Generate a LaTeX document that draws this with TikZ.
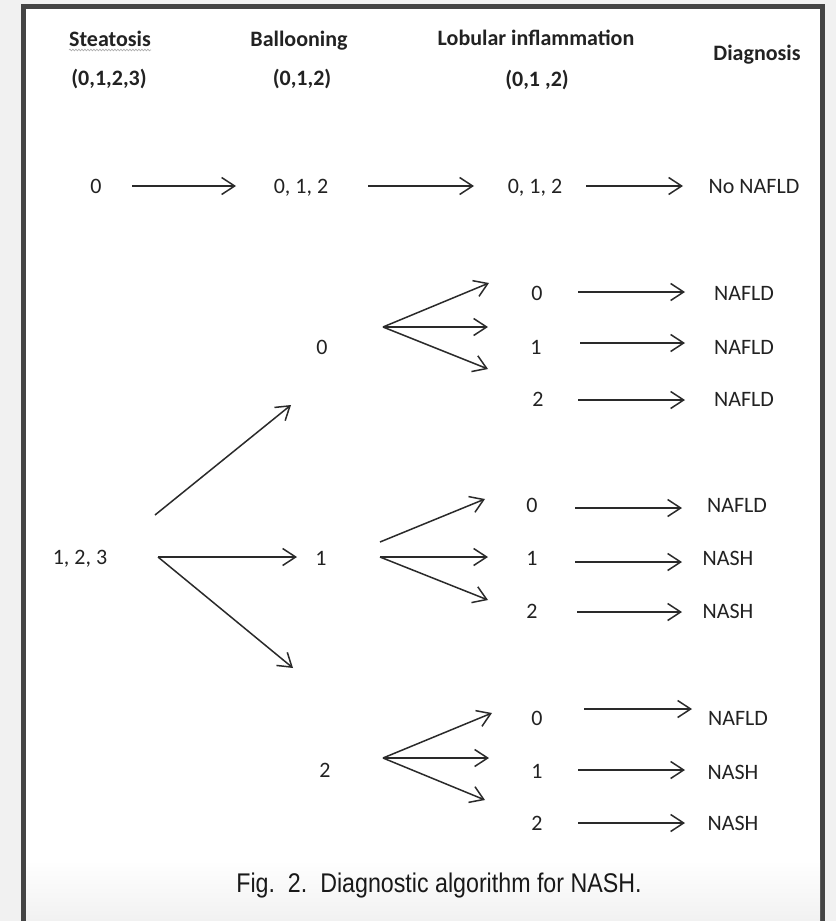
\documentclass[tikz,border=0pt]{standalone}
\usepackage{fontspec}
\setmainfont{Carlito}
\newfontfamily\capfont[FakeStretch=0.86]{Liberation Sans}
\usetikzlibrary{arrows.meta,decorations.pathmorphing}
\definecolor{ink}{HTML}{222222}
\definecolor{lineink}{HTML}{2A2A2A}
\definecolor{outerbg}{HTML}{F1F1F1}
\definecolor{framecol}{HTML}{444444}
\begin{document}
\begin{tikzpicture}[x=1pt,y=-1pt,
  lbl/.style={anchor=base,inner sep=0pt,text=ink,font=\fontsize{22}{26}\selectfont},
  hdr/.style={anchor=base,inner sep=0pt,text=ink,font=\fontsize{22}{26}\selectfont\bfseries},
  arr/.style={draw=lineink,line width=1.5pt,-{Straight Barb[length=13pt,width=17pt,line width=1.5pt]}},
  captxt/.style={anchor=base,inner sep=0pt,text=black!90,font=\capfont\fontsize{27}{32}\selectfont}]
\useasboundingbox (0,0) rectangle (836,921);
% background and frame
\fill[outerbg] (0,0) rectangle (836,921);
\fill[framecol] (21,4) rectangle (825,921);
\fill[white] (26,9) rectangle (820,921);
\shade[top color=white,bottom color=outerbg] (26,860) rectangle (820,921);

% headers
\node[hdr] (hst) at (110,46) {Steatosis};
\node[hdr] (hba) at (299,46) {Ballooning};
\node[hdr] (hlo) at (536,45) {Lobular inflammation};
\node[hdr] (hdi) at (757,60) {Diagnosis};
\node[hdr] (rst) at (109,85) {(0,1,2,3)};
\node[hdr] (rba) at (302,85) {(0,1,2)};
\node[hdr] (rlo) at (537,86) {(0,1 ,2)};
\draw[gray!70,line width=0.6pt,decorate,decoration={snake,amplitude=0.9pt,segment length=3pt}]
  ([yshift=-4pt]hst.base west) -- ([yshift=-4pt]hst.base east);

% row 0
\node[lbl] (s0) at (96,193) {0};
\node[lbl] (b012) at (301,193) {0, 1, 2};
\node[lbl] (l012) at (535,193) {0, 1, 2};
\node[lbl] (dno) at (754,193) {No NAFLD};

% steatosis 1,2,3 and ballooning
\node[lbl] (s123) at (80,564) {1, 2, 3};
\node[lbl] (b0) at (322,354) {0};
\node[lbl] (b1) at (321,565) {1};
\node[lbl] (b2) at (325,777) {2};

% lobular, ballooning 0
\node[lbl] (l00) at (537,300) {0};
\node[lbl] (l01) at (536,354) {1};
\node[lbl] (l02) at (538,406) {2};
\node[lbl] (d00) at (744,300) {NAFLD};
\node[lbl] (d01) at (744,354) {NAFLD};
\node[lbl] (d02) at (744,406) {NAFLD};

% lobular, ballooning 1
\node[lbl] (l10) at (532,512) {0};
\node[lbl] (l11) at (532,565) {1};
\node[lbl] (l12) at (532,618) {2};
\node[lbl] (d10) at (737,512) {NAFLD};
\node[lbl] (d11) at (728,565) {NASH};
\node[lbl] (d12) at (728,618) {NASH};

% lobular, ballooning 2
\node[lbl] (l20) at (537,725) {0};
\node[lbl] (l21) at (537,778) {1};
\node[lbl] (l22) at (537,830) {2};
\node[lbl] (d20) at (738,725) {NAFLD};
\node[lbl] (d21) at (733,779) {NASH};
\node[lbl] (d22) at (733,830) {NASH};

% caption
\node[captxt] (cap) at (439,892) {Fig.\ \ 2.\ \ Diagnostic algorithm for NASH.};

% connector end points
\coordinate (r0a) at (132,186); \coordinate (r0b) at (236,186);
\coordinate (r0c) at (368,186); \coordinate (r0d) at (474,186);
\coordinate (r0e) at (586,186); \coordinate (r0f) at (683,186);

\coordinate (sUp) at (155,515); \coordinate (sApex) at (158,557);
\coordinate (tb0) at (291,405); \coordinate (tb1) at (297,557); \coordinate (tb2) at (293,668);

\coordinate (f0) at (383,327);
\coordinate (t00) at (489,283); \coordinate (t01) at (488,327); \coordinate (t02) at (488,369);
\coordinate (f1up) at (380,542); \coordinate (f1) at (380,557);
\coordinate (t10) at (485,499); \coordinate (t11) at (488,557); \coordinate (t12) at (488,600);
\coordinate (f2) at (383,758);
\coordinate (t20) at (492,713); \coordinate (t21) at (489,758); \coordinate (t22) at (485,800);

\coordinate (a00) at (578,292); \coordinate (e00) at (685,292);
\coordinate (a01) at (580,343); \coordinate (e01) at (685,343);
\coordinate (a02) at (578,400); \coordinate (e02) at (685,400);
\coordinate (a10) at (575,508); \coordinate (e10) at (682,508);
\coordinate (a11) at (575,562); \coordinate (e11) at (682,562);
\coordinate (a12) at (577,612); \coordinate (e12) at (682,612);
\coordinate (a20) at (584,709); \coordinate (e20) at (692,709);
\coordinate (a21) at (578,770); \coordinate (e21) at (685,770);
\coordinate (a22) at (578,823); \coordinate (e22) at (685,823);

% arrows
\draw[arr] (r0a) -- (r0b);
\draw[arr] (r0c) -- (r0d);
\draw[arr] (r0e) -- (r0f);

\draw[arr] (sUp) -- (tb0);
\draw[arr] (sApex) -- (tb1);
\draw[arr] (sApex) -- (tb2);

\draw[arr] (f0) -- (t00);
\draw[arr] (f0) -- (t01);
\draw[arr] (f0) -- (t02);
\draw[arr] (f1up) -- (t10);
\draw[arr] (f1) -- (t11);
\draw[arr] (f1) -- (t12);
\draw[arr] (f2) -- (t20);
\draw[arr] (f2) -- (t21);
\draw[arr] (f2) -- (t22);

\draw[arr] (a00) -- (e00);
\draw[arr] (a01) -- (e01);
\draw[arr] (a02) -- (e02);
\draw[arr] (a10) -- (e10);
\draw[arr] (a11) -- (e11);
\draw[arr] (a12) -- (e12);
\draw[arr] (a20) -- (e20);
\draw[arr] (a21) -- (e21);
\draw[arr] (a22) -- (e22);
\end{tikzpicture}
\end{document}
